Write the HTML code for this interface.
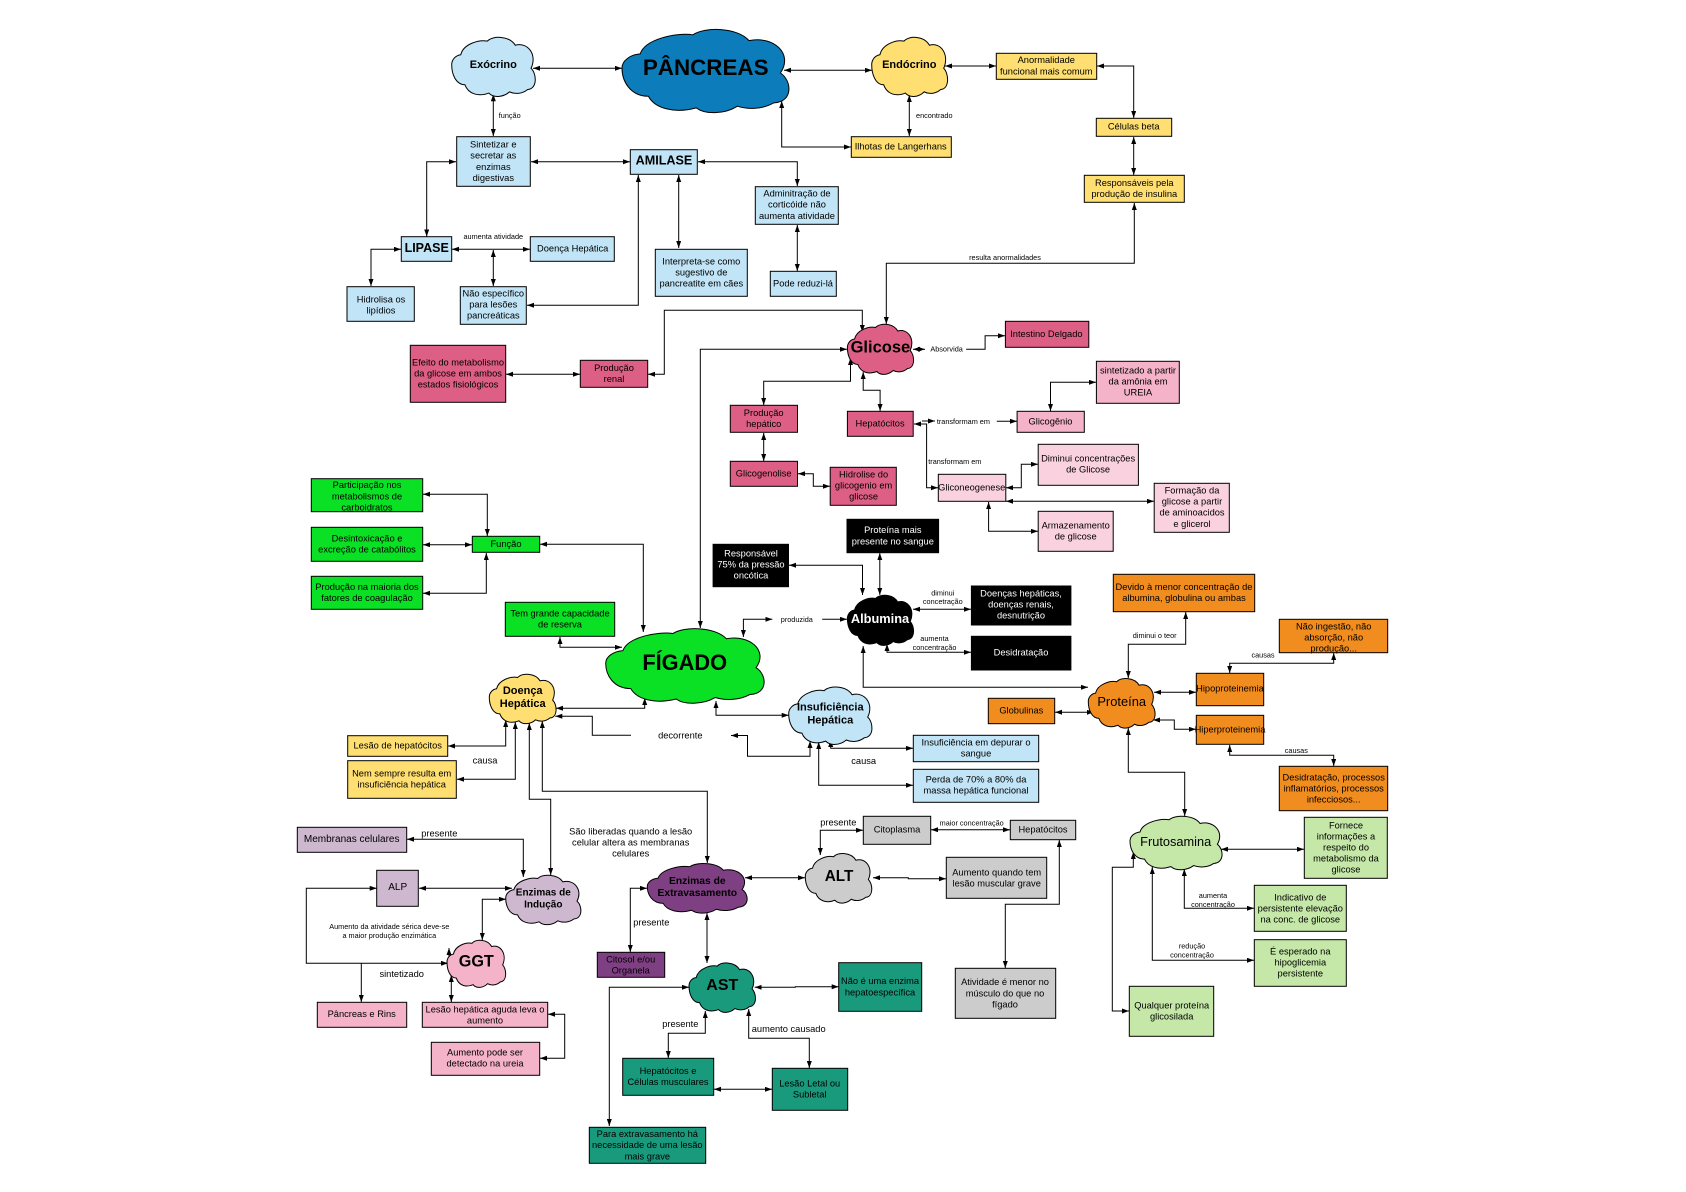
<!DOCTYPE html>
<html lang="pt"><head><meta charset="utf-8"><title>Pâncreas e Fígado</title>
<style>
html,body{margin:0;padding:0;background:#fff}
svg{display:block}
text{font-family:"Liberation Sans",sans-serif;font-size:9.3px;text-anchor:middle;dominant-baseline:central;fill:#000;transform:translateY(.6px)}
.s{font-size:7.3px}.m{font-size:10px}.w{fill:#fff}
.B{font-weight:bold}
.r rect{stroke:#000;stroke-width:1}
.l path{fill:none;stroke:#000;stroke-width:1}
.b path{marker-start:url(#a);marker-end:url(#a)}
.e path{marker-end:url(#a)}
.c use{stroke:#000;stroke-width:1}
#c{vector-effect:non-scaling-stroke}
</style></head><body>
<svg width="1686" height="1192" viewBox="0 0 1686 1192" xmlns="http://www.w3.org/2000/svg">
<defs>
<marker id="a" markerUnits="userSpaceOnUse" markerWidth="8" markerHeight="6" refX="7" refY="2.5" orient="auto-start-reverse"><path d="M0,0L7,2.5L0,5Z" fill="#000"/></marker>
<path id="c" d="M0,47C0,38 5,31 11,30C14,12 33,4 43,7C50,-3 70,-2 77,14C92,8 104,30 96,53C103,62 104,88 92,89C85,97 76,97 70,93C62,103 50,103 45,95C32,102 20,96 16,81C5,81 0,63 0,47Z"/>
</defs>
<rect width="1686" height="1192" fill="#fff"/>

<!-- connectors -->
<g class="l b">
<path d="M533,68.3H622"/><path d="M493.3,94.3V136"/><path d="M531,161.7H630"/><path d="M456,161.7H426.7V236.5"/>
<path d="M452,249.3H530"/><path d="M493.3,250V286"/><path d="M527,305.3H638.3V175"/><path d="M678.7,175V248"/>
<path d="M698,161.7H797.3V186"/><path d="M797.3,225V271"/><path d="M781.7,101V147H851"/><path d="M784,70.3H872"/>
<path d="M401,249.3H371V286"/><path d="M945,66H996"/><path d="M909.3,95V136"/><path d="M1097,66H1133.7V118"/>
<path d="M1133.7,137V175"/><path d="M1134.3,203V263.3H886.3V324"/><path d="M862.3,332V310.3H664.3V374.3H648"/>
<path d="M506,374.3H580"/><path d="M700.3,628V349.3H847"/><path d="M850.5,358V381.3H763.7V405"/>
<path d="M863.2,372V390.3H880.1V411"/><path d="M763.7,433V461"/><path d="M798,473.7H813.3V486.3H830"/>
<path d="M913,349.3H925"/><path d="M914,424H926.6V487.7H938"/><path d="M1050.5,411V382.3H1096"/>
<path d="M1006,487.7H1021.3V464.3H1038"/><path d="M1006,501.3H1154"/><path d="M988.6,502V531.3H1038"/>
<path d="M862.5,595V565.3H789"/><path d="M879.8,553V595"/><path d="M913,609.3H971"/><path d="M887,644V652.3H971"/>
<path d="M743.4,637V619.3H772.3"/><path d="M863.2,646V687.3H1088"/><path d="M1128.3,678V644.3H1185.7V612"/>
<path d="M1154,692.3H1196"/><path d="M1055,712.3H1094"/><path d="M1153,720H1174.3V729.3H1196"/>
<path d="M1229.7,673V663.3H1333.7V653"/><path d="M1229.7,745V755.3H1333.7V766"/><path d="M1128.3,728V772.3H1184.7V816"/>
<path d="M1221,849.3H1304"/><path d="M1184.3,869V908.3H1254"/><path d="M1152.3,867V960.3H1254"/>
<path d="M1133.3,852V867.3H1112.3V1011H1129"/><path d="M1059.3,840V904.3H1005.3V968"/><path d="M931,829.7H1010"/>
<path d="M820.3,855V830.3H863"/><path d="M873,877.7H908.3V878.7H946"/><path d="M745,877.7H805"/><path d="M647,888.3H630.3V952"/>
<path d="M707,913V963"/><path d="M754.7,987.3H795.3V986.7H838.7"/><path d="M705.3,1011V1033.3H668.3V1058"/>
<path d="M748.7,1009V1038.3H809.3V1068"/><path d="M714,1089.3H772"/><path d="M689,987.3H609.3V1126"/>
<path d="M707.3,863V791.3H542.3V721"/><path d="M550.7,875V799.3H529.3V723"/><path d="M505.7,720V746H448"/>
<path d="M515.3,722V779.3H457"/><path d="M556,708.3H644.7V698"/><path d="M731,735.5H747.5V756.2H810V741"/>
<path d="M716,701V715.3H788.7"/><path d="M830.7,740V748.3H913"/><path d="M818.7,742V785.3H913"/>
<path d="M643.3,632V544.3H540"/><path d="M487.3,536V494.3H423"/><path d="M423,544.7H472"/><path d="M486.3,553V593.3H423"/>
<path d="M560,637V647.3H622"/><path d="M407,839.3H523.3V877"/><path d="M419,888.3H512"/><path d="M506,899.3H482.3V940"/>
<path d="M376.7,888.3H306.3V963.3H448"/><path d="M451.3,975V1002"/><path d="M548,1014.3H564.7V1058.3H540"/>
</g>
<g class="l e">
<path d="M966.2,349.3H985.1V335.7H1005"/><path d="M922,421H935"/><path d="M996.8,421.3H1017"/><path d="M822.2,619.3H847"/>
<path d="M631,735.3H592.3V716.3H555.3"/><path d="M361.3,963.3V1002"/><path d="M449,963V948"/>
</g>

<!-- clouds -->
<g class="c">
<use href="#c" transform="translate(451.7 37) scale(.826 .59)" fill="#C1E4F7"/>
<use href="#c" transform="translate(622 29) scale(1.65 .83)" fill="#0C7CBA"/>
<use href="#c" transform="translate(871.7 37) scale(.75 .59)" fill="#FFDF71"/>
<use href="#c" transform="translate(847.4 324) scale(.654 .5)" fill="#DE5F85"/>
<use href="#c" transform="translate(847.4 595) scale(.654 .5)" fill="#000"/>
<use href="#c" transform="translate(1088.3 678.3) scale(.66 .494)" fill="#F18C1E"/>
<use href="#c" transform="translate(1130 816) scale(.91 .533)" fill="#C5E8A9"/>
<use href="#c" transform="translate(788.7 686.7) scale(.823 .573)" fill="#C1E4F7"/>
<use href="#c" transform="translate(605.7 628.3) scale(1.566 .744)" fill="#0AE024"/>
<use href="#c" transform="translate(489.3 674) scale(.66 .493)" fill="#FFDF71"/>
<use href="#c" transform="translate(505.7 875) scale(.743 .493)" fill="#CDB8CF"/>
<use href="#c" transform="translate(647.3 863.3) scale(.987 .494)" fill="#7F3F83"/>
<use href="#c" transform="translate(447 940) scale(.58 .47)" fill="#F4B3C8"/>
<use href="#c" transform="translate(805.3 853.3) scale(.657 .494)" fill="#CCCCCC"/>
<use href="#c" transform="translate(689 962.7) scale(.657 .493)" fill="#1A9A7C"/>
</g>

<!-- boxes -->
<g class="r">
<g fill="#C1E4F7">
<rect x="456.7" y="136.7" width="73.6" height="49.6"/><rect x="630.3" y="149.7" width="67" height="24.6"/>
<rect x="755.3" y="186.7" width="83" height="37.6"/><rect x="401.3" y="236.7" width="50.4" height="24.6"/>
<rect x="530.3" y="236.7" width="84" height="24.6"/><rect x="655.3" y="249.3" width="92" height="47"/>
<rect x="770.3" y="271.3" width="66" height="25"/><rect x="460.3" y="286.7" width="66" height="37.6"/>
<rect x="347" y="286.7" width="67.3" height="34.6"/><rect x="913.3" y="735.3" width="125.4" height="26.4"/>
<rect x="913.3" y="769.3" width="125.4" height="33"/>
</g>
<g fill="#FFDF71">
<rect x="851.3" y="136.7" width="100" height="20.6"/><rect x="996.3" y="53.3" width="100.4" height="26"/>
<rect x="1096.3" y="118.3" width="75.4" height="18"/><rect x="1084.3" y="175.3" width="100" height="27"/>
<rect x="347.7" y="735.7" width="100" height="20.6"/><rect x="347.7" y="760.7" width="108.6" height="37.6"/>
</g>
<g fill="#DE5F85">
<rect x="1005.4" y="321.3" width="83.4" height="26"/><rect x="847.4" y="411.3" width="65.8" height="25"/>
<rect x="730.3" y="405.3" width="67.2" height="27"/><rect x="730.3" y="461.3" width="67.2" height="25"/>
<rect x="830.2" y="467.3" width="66.1" height="38"/><rect x="410.3" y="345.3" width="95.4" height="57"/>
<rect x="580.3" y="360.3" width="67.4" height="27"/>
</g>
<g fill="#F4B3C8">
<rect x="1096.4" y="361.3" width="82.9" height="42"/><rect x="1017.1" y="411.3" width="67.2" height="21"/>
<rect x="317.3" y="1002.3" width="89.4" height="25"/><rect x="422.3" y="1002.3" width="125.4" height="25"/>
<rect x="431.3" y="1042.3" width="108.4" height="33"/>
</g>
<g fill="#FAD2DF">
<rect x="938.3" y="474.3" width="67.5" height="27"/><rect x="1038.2" y="444.3" width="100.2" height="41"/>
<rect x="1154.2" y="483.3" width="75.1" height="49"/><rect x="1038.2" y="511.3" width="75" height="40"/>
</g>
<g fill="#000">
<rect x="847" y="519.3" width="91.6" height="33.4"/><rect x="713.1" y="544.3" width="75.4" height="42.4"/>
<rect x="971.4" y="586" width="99.5" height="39"/><rect x="971.4" y="636.3" width="99.5" height="33.7"/>
</g>
<g fill="#F18C1E">
<rect x="1113.3" y="574.3" width="141.4" height="37.4"/><rect x="1279.3" y="619.3" width="108.4" height="33.4"/>
<rect x="1196.3" y="673.3" width="67.4" height="32.4"/><rect x="1196.3" y="715.3" width="67.4" height="29"/>
<rect x="1279.3" y="766.3" width="108.4" height="44.4"/><rect x="988.3" y="698.3" width="66.4" height="25.4"/>
</g>
<g fill="#C5E8A9">
<rect x="1304.3" y="817.3" width="83" height="61"/><rect x="1254.3" y="885.3" width="92" height="46"/>
<rect x="1254.3" y="939.7" width="92" height="46.6"/><rect x="1129.3" y="986.3" width="84.4" height="50"/>
</g>
<g fill="#0AE024">
<rect x="472.3" y="536.3" width="67.4" height="16"/><rect x="311.3" y="478.7" width="111.4" height="33"/>
<rect x="311.3" y="527.3" width="111.4" height="34"/><rect x="311.3" y="576.3" width="111.4" height="33"/>
<rect x="505.3" y="602.3" width="109.4" height="34"/>
</g>
<g fill="#CDB8CF">
<rect x="297.3" y="827.3" width="109.4" height="25"/><rect x="376.7" y="870.3" width="41.6" height="36"/>
</g>
<rect x="597.3" y="952.3" width="67.4" height="25" fill="#7F3F83"/>
<g fill="#CCCCCC">
<rect x="863.3" y="816.3" width="67.4" height="28"/><rect x="1010.3" y="820.3" width="65.4" height="19.4"/>
<rect x="946.3" y="857.3" width="100.4" height="41"/><rect x="955.3" y="968.3" width="100.4" height="50"/>
</g>
<g fill="#1A9A7C">
<rect x="838.7" y="962.7" width="83" height="48.6"/><rect x="622.7" y="1058.3" width="91" height="37"/>
<rect x="772.3" y="1068.3" width="75.4" height="42"/><rect x="589.3" y="1127.3" width="116.4" height="36"/>
</g>
</g>

<!-- cloud titles -->
<g class="B">
<text x="493.3" y="64.3" style="font-size:11px">Exócrino</text>
<text x="705.7" y="66.7" style="font-size:22.4px">PÂNCREAS</text>
<text x="909.3" y="64.3" style="font-size:11px">Endócrino</text>
<text x="664" y="160" style="font-size:12.6px">AMILASE</text>
<text x="426.7" y="247.3" style="font-size:12.5px">LIPASE</text>
<text x="880.4" y="346.7" style="font-size:16.5px">Glicose</text>
<text x="880" y="617.7" class="w" style="font-size:12.8px">Albumina</text>
<text x="684.7" y="662" style="font-size:21.8px">FÍGADO</text>
<text x="830.3" y="707" style="font-size:11px">Insuficiência</text>
<text x="830.3" y="720" style="font-size:11px">Hepática</text>
<text x="522.7" y="690.3" style="font-size:11px">Doença</text>
<text x="522.7" y="703.3" style="font-size:11px">Hepática</text>
<text x="543.3" y="892.3" class="m">Enzimas de</text>
<text x="543.3" y="904.3" class="m">Indução</text>
<text x="697.3" y="880.7" style="font-size:10.3px">Enzimas de</text>
<text x="697.3" y="892.7" style="font-size:10.3px">Extravasamento</text>
<text x="476.3" y="961" style="font-size:16.2px">GGT</text>
<text x="839" y="876" style="font-size:15.3px">ALT</text>
<text x="722.3" y="985" style="font-size:16px">AST</text>
</g>
<text x="1121.7" y="700.7" style="font-size:12.9px">Proteína</text>
<text x="1175.7" y="840.7" style="font-size:12.8px">Frutosamina</text>

<!-- box text -->
<text x="493.3" y="144">Sintetizar e</text><text x="493.3" y="155">secretar as</text><text x="493.3" y="166.3">enzimas</text><text x="493.3" y="177.3">digestivas</text>
<text x="797" y="193">Adminitração de</text><text x="797" y="204">corticóide não</text><text x="797" y="215.3">aumenta atividade</text>
<text x="572.7" y="248">Doença Hepática</text>
<text x="701.3" y="260.7">Interpreta-se como</text><text x="701.3" y="271.7">sugestivo de</text><text x="701.3" y="282.7">pancreatite em cães</text>
<text x="803" y="282.7">Pode reduzi-lá</text>
<text x="493.3" y="293">Não específico</text><text x="493.3" y="304">para lesões</text><text x="493.3" y="315">pancreáticas</text>
<text x="381" y="299">Hidrolisa os</text><text x="381" y="310">lipídios</text>
<text x="900.7" y="146">Ilhotas de Langerhans</text>
<text x="1046.3" y="59.3">Anormalidade</text><text x="1046.3" y="70.7">funcional mais comum</text>
<text x="1133.7" y="126">Células beta</text>
<text x="1134.3" y="182.3">Responsáveis pela</text><text x="1134.3" y="193.3">produção de insulina</text>
<text x="1046.4" y="333.3">Intestino Delgado</text>
<text x="1138" y="370">sintetizado a partir</text><text x="1138" y="381">da amônia em</text><text x="1138" y="392">UREIA</text>
<text x="1050.5" y="420.7">Glicogênio</text>
<text x="880.1" y="422.7">Hepatócitos</text>
<text x="763.7" y="412.3">Produção</text><text x="763.7" y="423.3">hepático</text>
<text x="763.7" y="472.7">Glicogenolise</text>
<text x="863.6" y="473.7">Hidrolise do</text><text x="863.6" y="485">glicogenio em</text><text x="863.6" y="496">glicose</text>
<text x="971.7" y="487">Gliconeogenese</text>
<text x="1088.1" y="458">Diminui concentrações</text><text x="1088.1" y="469">de Glicose</text>
<text x="1192" y="490">Formação da</text><text x="1192" y="501">glicose a partir</text><text x="1192" y="512">de aminoacidos</text><text x="1192" y="523.3">e glicerol</text>
<text x="1075.7" y="525">Armazenamento</text><text x="1075.7" y="536">de glicose</text>
<text x="892.8" y="529.3" class="w">Proteína mais</text><text x="892.8" y="540.7" class="w">presente no sangue</text>
<text x="751" y="553" class="w">Responsável</text><text x="751" y="564" class="w">75% da pressão</text><text x="751" y="575" class="w">oncótica</text>
<text x="1021" y="592.7" class="w">Doenças hepáticas,</text><text x="1021" y="603.7" class="w">doenças renais,</text><text x="1021" y="614.7" class="w">desnutrição</text>
<text x="1021" y="651.7" class="w">Desidratação</text>
<text x="1184" y="586.3">Devido à menor concentração de</text><text x="1184" y="597.3">albumina, globulina ou ambas</text>
<text x="1333.7" y="626">Não ingestão, não</text><text x="1333.7" y="637">absorção, não</text><text x="1333.7" y="648">produção...</text>
<text x="1230" y="688">Hipoproteinemia</text>
<text x="1230" y="728.7">Hiperproteinemia</text>
<text x="1333.7" y="776.7">Desidratação, processos</text><text x="1333.7" y="787.7">inflamatórios, processos</text><text x="1333.7" y="798.7">infecciosos...</text>
<text x="1021.3" y="709.7">Globulinas</text>
<text x="1346" y="824.7">Fornece</text><text x="1346" y="835.7">informações a</text><text x="1346" y="846.7">respeito do</text><text x="1346" y="857.7">metabolismo da</text><text x="1346" y="869">glicose</text>
<text x="1300.3" y="896.7">Indicativo de</text><text x="1300.3" y="907.7">persistente elevação</text><text x="1300.3" y="918.7">na conc. de glicose</text>
<text x="1300.3" y="950.7">É esperado na</text><text x="1300.3" y="961.7">hipoglicemia</text><text x="1300.3" y="972.7">persistente</text>
<text x="1171.7" y="1004.7">Qualquer proteína</text><text x="1171.7" y="1015.7">glicosilada</text>
<text x="976" y="742">Insuficiência em depurar o</text><text x="976" y="753">sangue</text>
<text x="976" y="779">Perda de 70% a 80% da</text><text x="976" y="790">massa hepática funcional</text>
<text x="506" y="543.3">Função</text>
<text x="367" y="484.3">Participação nos</text><text x="367" y="495.7">metabolismos de</text><text x="367" y="506.7">carboidratos</text>
<text x="367" y="537.7">Desintoxicação e</text><text x="367" y="548.7">excreção de catabólitos</text>
<text x="367" y="586.3">Produção na maioria dos</text><text x="367" y="597.3">fatores de coagulação</text>
<text x="560" y="612.7">Tem grande capacidade</text><text x="560" y="623.7">de reserva</text>
<text x="458" y="361.7">Efeito do metabolismo</text><text x="458" y="372.7">da glicose em ambos</text><text x="458" y="384">estados fisiológicos</text>
<text x="614" y="367.3">Produção</text><text x="614" y="378.3">renal</text>
<text x="397.7" y="745">Lesão de hepatócitos</text>
<text x="401.7" y="773">Nem sempre resulta em</text><text x="401.7" y="784">insuficiência hepática</text>
<text x="351.7" y="838.7" class="m">Membranas celulares</text>
<text x="397.7" y="886.7" class="m">ALP</text>
<text x="630.7" y="830.7">São liberadas quando a lesão</text><text x="630.7" y="841.7">celular altera as membranas</text><text x="630.7" y="852.7">celulares</text>
<text x="630.7" y="958.7">Citosol e/ou</text><text x="630.7" y="969.7">Organela</text>
<text x="361.7" y="1013.3">Pâncreas e Rins</text>
<text x="485" y="1008.7">Lesão hepática aguda leva o</text><text x="485" y="1019.7">aumento</text>
<text x="485" y="1052">Aumento pode ser</text><text x="485" y="1063">detectado na ureia</text>
<text x="897" y="829">Citoplasma</text>
<text x="1043" y="829">Hepatócitos</text>
<text x="996.7" y="871.7">Aumento quando tem</text><text x="996.7" y="882.7">lesão muscular grave</text>
<text x="1005" y="981.3">Atividade é menor no</text><text x="1005" y="992.7">músculo do que no</text><text x="1005" y="1003.7">fígado</text>
<text x="880" y="980.3">Não é uma enzima</text><text x="880" y="991.7">hepatoespecífica</text>
<text x="668" y="1070.3">Hepatócitos e</text><text x="668" y="1081.3">Células musculares</text>
<text x="809.7" y="1082.7">Lesão Letal ou</text><text x="809.7" y="1093.7">Subletal</text>
<text x="647.3" y="1133.3">Para extravasamento há</text><text x="647.3" y="1144.3">necessidade de uma lesão</text><text x="647.3" y="1155.7">mais grave</text>

<!-- connector labels -->
<g class="lb">
<text x="509.7" y="115" class="s">função</text>
<text x="934.3" y="115" class="s">encontrado</text>
<text x="493.3" y="235.7" class="s">aumenta atividade</text>
<text x="1005" y="257" class="s">resulta anormalidades</text>
<text x="946.6" y="348.3" class="s">Absorvida</text>
<text x="963.4" y="420.7" class="s">transformam em</text>
<text x="954.8" y="460.7" class="s">transformam em</text>
<text x="942.8" y="592.3" class="s">diminui</text><text x="942.8" y="601" class="s">concetração</text>
<text x="934.5" y="637.7" class="s">aumenta</text><text x="934.5" y="646.7" class="s">concentração</text>
<text x="796.8" y="618.7" class="s">produzida</text>
<text x="1154.7" y="635" class="s">diminui o teor</text>
<text x="1263" y="654.3" class="s">causas</text>
<text x="1296.3" y="749.7" class="s">causas</text>
<text x="1213" y="895" class="s">aumenta</text><text x="1213" y="903.7" class="s">concentração</text>
<text x="1192" y="945.3" class="s">redução</text><text x="1192" y="954.3" class="s">concentração</text>
<text x="971.7" y="822.3" class="s">maior concentração</text>
<text x="838.3" y="822">presente</text>
<text x="651.3" y="922">presente</text>
<text x="680.3" y="1023.3">presente</text>
<text x="788.7" y="1028.3">aumento causado</text>
<text x="485" y="760">causa</text>
<text x="680.3" y="734.7">decorrente</text>
<text x="863.7" y="760.3">causa</text>
<text x="439.3" y="833">presente</text>
<text x="401.7" y="973.3">sintetizado</text>
<text x="389.3" y="926" class="s">Aumento da atividade sérica deve-se</text>
<text x="389.3" y="935" class="s">a maior produção enzimática</text>
</g>
</svg>
</body></html>
